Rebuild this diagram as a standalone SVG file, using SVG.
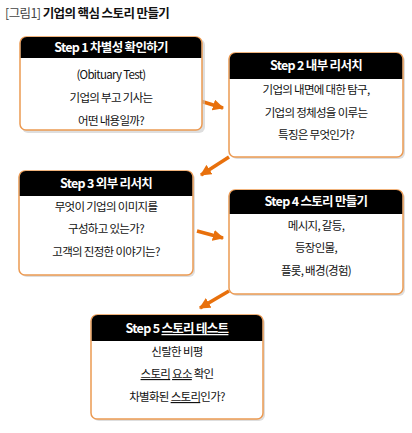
<svg xmlns="http://www.w3.org/2000/svg" width="412" height="433" viewBox="0 0 412 433">
<defs>
  <style>
    .box{fill:#fff;stroke:#ec9a52;stroke-width:1.5}
    .shadow{fill:#c8c8c8;opacity:0.6}
    .hdr{fill:#000}
    .ht{font-family:"Noto Sans CJK KR","Liberation Sans",sans-serif;font-size:12.5px;font-weight:bold;fill:#fff;text-anchor:middle;letter-spacing:-0.7px}
    .bt{font-family:"Noto Sans CJK KR","Liberation Sans",sans-serif;font-size:11.5px;fill:#111;text-anchor:middle;letter-spacing:-0.7px}
    .title{font-family:"Noto Sans CJK KR","Liberation Sans",sans-serif;font-size:12.5px;font-weight:bold;fill:#111;letter-spacing:-0.6px}
    .conn{stroke:#e8700c;stroke-width:3.5;fill:none}
    .u{text-decoration:underline}
  </style>
  <marker id="ah" viewBox="0 0 10 10" refX="9" refY="5" markerWidth="3.2" markerHeight="3.2" orient="auto" markerUnits="strokeWidth">
    <path d="M0,0 L10,5 L0,10 z" fill="#e8700c"/>
  </marker>
</defs>
<rect width="412" height="433" fill="#fff"/>
<text class="title" x="5" y="18"><tspan font-weight="normal" fill="#444">[그림1]</tspan> 기업의 핵심 스토리 만들기</text>

<g id="connectors">
  <line class="conn" x1="197" y1="100" x2="223" y2="108" marker-end="url(#ah)"/>
  <line class="conn" x1="229" y1="157" x2="201" y2="175" marker-end="url(#ah)"/>
  <line class="conn" x1="197" y1="231" x2="223" y2="238" marker-end="url(#ah)"/>
  <line class="conn" x1="229" y1="291" x2="200" y2="308" marker-end="url(#ah)"/>
</g>

<g id="step1">
  <rect class="shadow" x="22" y="39" width="183" height="94" rx="6"/>
  <rect class="box" x="20" y="37" width="182" height="93" rx="6"/>
  <path class="hdr" d="M20.75,58 V43 a6,6 0 0 1 6,-6 H195.25 a6,6 0 0 1 6,6 V58 z"/>
  <text class="ht" x="111" y="52">Step 1 차별성 확인하기</text>
  <text class="bt" x="111" y="79">(Obituary Test)</text>
  <text class="bt" x="111" y="102">기업의 부고 기사는</text>
  <text class="bt" x="111" y="125">어떤 내용일까?</text>
</g>

<g id="step2">
  <rect class="shadow" x="231" y="55" width="174" height="104" rx="6"/>
  <rect class="box" x="229" y="53" width="174" height="104" rx="6"/>
  <path class="hdr" d="M229.75,79 V59 a6,6 0 0 1 6,-6 H396.25 a6,6 0 0 1 6,6 V79 z"/>
  <text class="ht" x="316" y="70">Step 2 내부 리서치</text>
  <text class="bt" x="316" y="94">기업의 내면에 대한 탐구,</text>
  <text class="bt" x="316" y="117">기업의 정체성을 이루는</text>
  <text class="bt" x="316" y="139">특징은 무엇인가?</text>
</g>

<g id="step3">
  <rect class="shadow" x="21" y="173" width="174" height="104" rx="6"/>
  <rect class="box" x="19" y="171" width="174" height="104" rx="6"/>
  <path class="hdr" d="M19.75,196 V177 a6,6 0 0 1 6,-6 H186.25 a6,6 0 0 1 6,6 V196 z"/>
  <text class="ht" x="106" y="188">Step 3 외부 리서치</text>
  <text class="bt" x="106" y="211">무엇이 기업의 이미지를</text>
  <text class="bt" x="106" y="233">구성하고 있는가?</text>
  <text class="bt" x="106" y="256">고객의 진정한 이야기는?</text>
</g>

<g id="step4">
  <rect class="shadow" x="231" y="192" width="174" height="104" rx="6"/>
  <rect class="box" x="229" y="190" width="174" height="104" rx="6"/>
  <path class="hdr" d="M229.75,214 V196 a6,6 0 0 1 6,-6 H396.25 a6,6 0 0 1 6,6 V214 z"/>
  <text class="ht" x="316" y="206">Step 4 스토리 만들기</text>
  <text class="bt" x="316" y="230">메시지, 갈등,</text>
  <text class="bt" x="316" y="252">등장인물,</text>
  <text class="bt" x="316" y="275">플롯, 배경(경험)</text>
</g>

<g id="step5">
  <rect class="shadow" x="93" y="317" width="172" height="104" rx="6"/>
  <rect class="box" x="91" y="315" width="172" height="104" rx="6"/>
  <path class="hdr" d="M91.75,341 V321 a6,6 0 0 1 6,-6 H256.25 a6,6 0 0 1 6,6 V341 z"/>
  <text class="ht" x="177" y="333">Step 5 <tspan class="u">스토리 테스트</tspan></text>
  <text class="bt" x="177" y="356">신랄한 비평</text>
  <text class="bt" x="177" y="378"><tspan class="u">스토리</tspan> <tspan class="u">요소</tspan> 확인</text>
  <text class="bt" x="177" y="401">차별화된 <tspan class="u">스토리</tspan>인가?</text>
</g>
</svg>
